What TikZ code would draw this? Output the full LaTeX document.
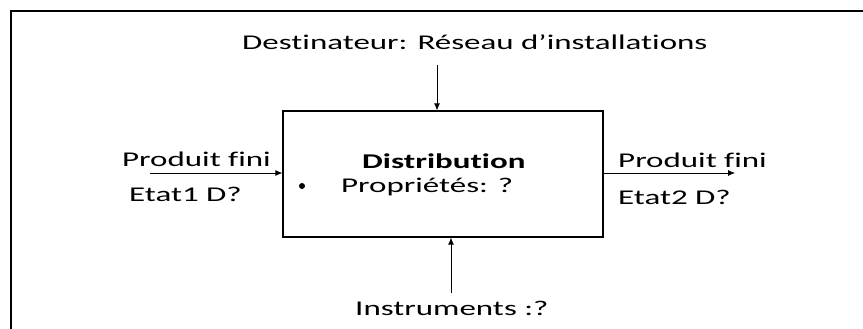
\documentclass[tikz,border=0pt]{standalone}
\usepackage{fontspec}
\setmainfont{Carlito}[FakeStretch=1.57,Ligatures=NoCommon]
\usetikzlibrary{arrows.meta}
\begin{document}
\begin{tikzpicture}[x=1pt,y=-1pt,
  lbl/.style={inner sep=0pt,anchor=base west,font=\fontsize{21}{25}\selectfont},
  arr/.style={-{Latex[length=7pt,width=6pt]},line width=0.8pt},
  procbox/.style={draw,line width=1.2pt,minimum width=320pt,minimum height=126pt,inner sep=0pt}]
\useasboundingbox (0,0) rectangle (863,329);
\draw[line width=1.6pt] (11,329) -- (11,11) -- (863,11);
\node[procbox] (box) at (443,174) {};
\node[lbl] (dest) at (242,50) {Destinateur: Réseau d’installations};
\node[lbl] (pin) at (122,166) {Produit fini};
\node[lbl] (ein) at (129,201) {Etat1 D?};
\node[lbl] (pout) at (618,167) {Produit fini};
\node[lbl] (eout) at (618,204) {Etat2 D?};
\node[lbl,font=\fontsize{21}{25}\selectfont\bfseries] (dist) at (362,168) {Distribution};
\node[inner sep=0pt,circle,fill,minimum size=6pt] (bul) at (302,186) {};
\node[lbl] (prop) at (341,192) {Propriétés: ?};
\node[lbl] (instr) at (355,315) {Instruments :?};
\coordinate (topstart) at (437,65);
\coordinate (botstart) at (451,293);
\coordinate (leftstart) at (150,173);
\coordinate (rightend) at (735,173);
\draw[arr] (topstart) -- (topstart |- box.north);
\draw[arr] (botstart) -- (botstart |- box.south);
\draw[arr] (leftstart) -- (leftstart -| box.west);
\draw[arr] (rightend -| box.east) -- (rightend);
\end{tikzpicture}
\end{document}
